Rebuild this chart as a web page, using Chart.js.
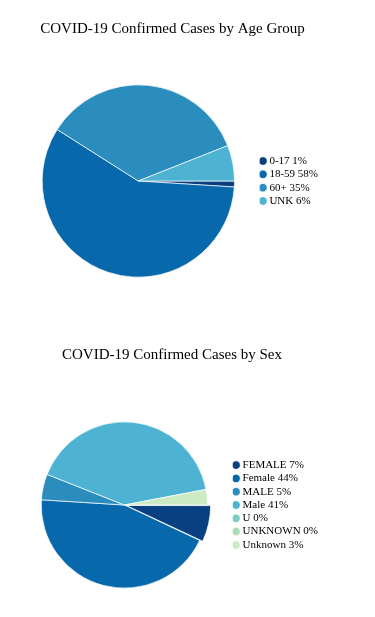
<!DOCTYPE html>
<html lang="en">
<head>
    <meta charset="UTF-8">
    <title>COVID-19 Confirmed Cases</title>
    <script src="https://cdn.jsdelivr.net/npm/chart.js"></script>
    <style>
        * { margin: 0; padding: 0; box-sizing: border-box; }
        body { background: #fff; width: 375px; height: 617px; position: relative; overflow: hidden; }
        .box { position: absolute; left: 0; }
        #ageBox { top: 0; width: 338px; height: 300px; }
        #sexBox { top: 310px; width: 340px; height: 307px; }
    </style>
</head>
<body>
    <div class="box" id="ageBox"><canvas id="ageChart"></canvas></div>
    <div class="box" id="sexBox"><canvas id="sexChart"></canvas></div>

    <script>
        // data (percent of confirmed cases)
        const ageGroups = ['0-17', '18-59', '60+', 'UNK'];
        const agePct = [1, 58, 35, 6];

        const sexGroups = ['FEMALE', 'Female', 'MALE', 'Male', 'U', 'UNKNOWN', 'Unknown'];
        const sexPct = [7, 44, 5, 41, 0, 0, 3];

        // GnBu palette
        const palette = ['#084081', '#0868ac', '#2b8cbe', '#4eb3d3', '#7bccc4', '#a8ddb5', '#ccebc5'];

        const serif = "'Liberation Serif', 'Times New Roman', serif";

        function pieOptions(title, titlePad, pad) {
            return {
                responsive: true,
                maintainAspectRatio: false,
                animation: false,
                rotation: 90,
                layout: { padding: pad },
                plugins: {
                    title: {
                        display: true,
                        text: title,
                        color: '#000',
                        font: { family: serif, size: 15, weight: 'normal' },
                        padding: titlePad
                    },
                    legend: {
                        position: 'right',
                        fullSize: false,
                        labels: {
                            usePointStyle: true,
                            pointStyle: 'circle',
                            boxWidth: 2,
                            boxHeight: 6,
                            padding: 2.3,
                            color: '#000',
                            font: { family: serif, size: 11 }
                        }
                    },
                    tooltip: { enabled: false }
                }
            };
        }

        new Chart(document.getElementById('ageChart'), {
            type: 'pie',
            data: {
                labels: ageGroups.map((g, i) => g + ' ' + agePct[i] + '%'),
                datasets: [{
                    data: agePct,
                    backgroundColor: palette.slice(0, ageGroups.length),
                    borderColor: '#fff',
                    borderWidth: 0.7
                }]
            },
            options: pieOptions('COVID-19 Confirmed Cases by Age Group',
                { top: 20, bottom: 46.5 },
                { left: 17, right: 10, top: 0, bottom: 22.5 })
        });

        new Chart(document.getElementById('sexChart'), {
            type: 'pie',
            data: {
                labels: sexGroups.map((g, i) => g + ' ' + sexPct[i] + '%'),
                datasets: [{
                    data: sexPct,
                    backgroundColor: palette,
                    borderColor: '#fff',
                    borderWidth: 0.7,
                    offset: [8, 0, 0, 0, 0, 0, 0]
                }]
            },
            options: pieOptions('COVID-19 Confirmed Cases by Sex',
                { top: 36, bottom: 53.5 },
                { left: 16, right: 12, top: 0, bottom: 24.5 })
        });
    </script>
</body>
</html>
